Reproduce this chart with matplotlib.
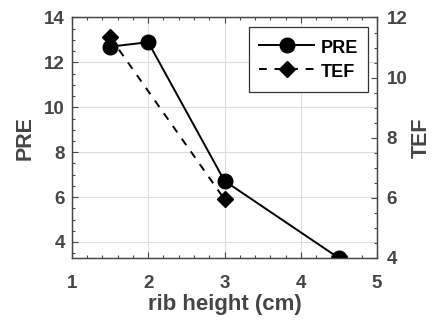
import matplotlib
matplotlib.use("Agg")
import matplotlib.pyplot as plt
from matplotlib.ticker import MultipleLocator
from matplotlib.lines import Line2D

plt.rcParams['font.family'] = ['Liberation Sans', 'DejaVu Sans']
plt.rcParams['font.weight'] = 'bold'

pre_x = [1.5, 2, 3, 4.5]
pre_y = [12.7, 12.9, 6.72, 3.28]
tef_x = [1.5, 3]
tef_y = [11.35, 5.95]

xticks = [1, 2, 3, 4, 5]
left_ticks = [4, 6, 8, 10, 12, 14]
right_ticks = [4, 6, 8, 10, 12]

grey = '#454545'
dash = (4, 4)

fig = plt.figure(figsize=(4.33, 3.24), dpi=100)
ax = fig.add_axes([0.166, 0.204, 0.705, 0.742])
ax2 = ax.twinx()

ax.plot(pre_x, pre_y, '-', color='black', lw=1.4, marker='o', ms=10.5, zorder=3)
ax2.plot(tef_x, tef_y, '--', color='black', lw=1.4, marker='D', ms=8, zorder=3,
         dashes=dash)

ax.set_xlim(1, 5)
ax.set_ylim(3.29, 14)
ax2.set_ylim(4, 12)
ax.set_xticks(xticks)
ax.set_yticks(left_ticks)
ax2.set_yticks(right_ticks)
ax.xaxis.set_minor_locator(MultipleLocator(0.2))
ax.yaxis.set_minor_locator(MultipleLocator(0.5))
ax2.yaxis.set_minor_locator(MultipleLocator(0.5))

ax.grid(True, which='major', color='#dddddd', lw=0.8)
ax.set_axisbelow(True)

for a in (ax, ax2):
    for s in a.spines.values():
        s.set_color(grey)
        s.set_linewidth(0.9)
    a.tick_params(which='both', direction='in', colors=grey, labelsize=13.5,
                  top=True, width=0.8)
    a.tick_params(which='major', length=4)
    a.tick_params(which='minor', length=2.5)
ax.tick_params(axis='y', right=False, which='both', pad=5)
ax.tick_params(axis='x', pad=12)
ax2.tick_params(axis='y', pad=7)

for lab in ax.get_xticklabels() + ax.get_yticklabels() + ax2.get_yticklabels():
    lab.set_fontweight('bold')

ax.set_xlabel('rib height (cm)', fontsize=16, fontweight='bold', color=grey, labelpad=2)
ax.set_ylabel('PRE', fontsize=15.5, fontweight='bold', color=grey, labelpad=6.5)
ax2.set_ylabel('TEF', fontsize=15.5, fontweight='bold', color=grey, labelpad=2.5)

handles = [Line2D([], [], color='black', lw=1.4, marker='o', ms=10.5),
           Line2D([], [], color='black', lw=1.4, ls='--', marker='D', ms=8, dashes=dash)]
leg = ax2.legend(handles, ['PRE', 'TEF'], loc='upper right', fancybox=False,
                 framealpha=1, edgecolor='#333333', handlelength=3.0,
                 handleheight=1.45, labelspacing=0.15, borderpad=0.55,
                 handletextpad=0.4, borderaxespad=0.5,
                 prop={'weight': 'bold', 'size': 13})
leg.get_frame().set_linewidth(0.9)

fig.savefig('out.png', dpi=100)
